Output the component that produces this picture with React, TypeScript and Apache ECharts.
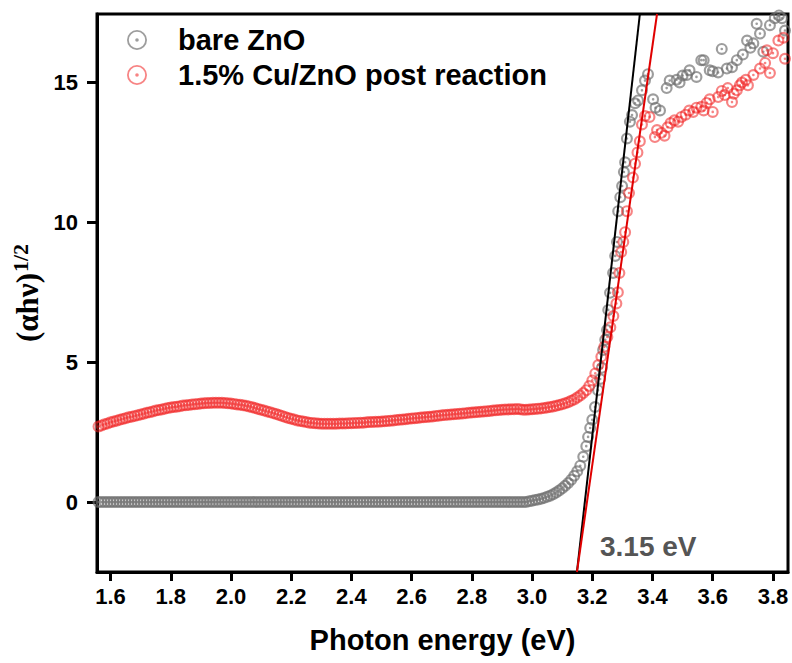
import React, { useEffect, useRef } from "react";
import * as echarts from "echarts";

// Photon energy grid (eV) of the smooth, densely sampled part of both spectra
const energyBase = [
  1.56, 1.57, 1.58, 1.59, 1.6, 1.61, 1.62, 1.63, 1.64, 1.65, 1.66, 1.67, 1.68, 1.69, 1.7, 1.71, 1.72, 1.73, 1.74, 1.75,
  1.76, 1.77, 1.78, 1.79, 1.8, 1.81, 1.82, 1.83, 1.84, 1.85, 1.86, 1.87, 1.88, 1.89, 1.9, 1.91, 1.92, 1.93, 1.94, 1.95,
  1.96, 1.97, 1.98, 1.99, 2.0, 2.01, 2.02, 2.03, 2.04, 2.05, 2.06, 2.07, 2.08, 2.09, 2.1, 2.11, 2.12, 2.13, 2.14, 2.15,
  2.16, 2.17, 2.18, 2.19, 2.2, 2.21, 2.22, 2.23, 2.24, 2.25, 2.26, 2.27, 2.28, 2.29, 2.3, 2.31, 2.32, 2.33, 2.34, 2.35,
  2.36, 2.37, 2.38, 2.39, 2.4, 2.41, 2.42, 2.43, 2.44, 2.45, 2.46, 2.47, 2.48, 2.49, 2.5, 2.51, 2.52, 2.53, 2.54, 2.55,
  2.56, 2.57, 2.58, 2.59, 2.6, 2.61, 2.62, 2.63, 2.64, 2.65, 2.66, 2.67, 2.68, 2.69, 2.7, 2.71, 2.72, 2.73, 2.74, 2.75,
  2.76, 2.77, 2.78, 2.79, 2.8, 2.81, 2.82, 2.83, 2.84, 2.85, 2.86, 2.87, 2.88, 2.89, 2.9, 2.91, 2.92, 2.93, 2.94, 2.95,
  2.96, 2.97, 2.98, 2.99, 3.0, 3.01, 3.02, 3.03, 3.04, 3.05, 3.06, 3.07, 3.08, 3.09, 3.1, 3.11, 3.12, 3.13, 3.14, 3.15,
  3.16,
];

// (αhν)^1/2 of bare ZnO on that grid
const bareBase = [
  0, 0, 0, 0, 0, 0, 0, 0, 0, 0, 0, 0, 0, 0, 0, 0, 0, 0, 0, 0,
  0, 0, 0, 0, 0, 0, 0, 0, 0, 0, 0, 0, 0, 0, 0, 0, 0, 0, 0, 0,
  0, 0, 0, 0, 0, 0, 0, 0, 0, 0, 0, 0, 0, 0, 0, 0, 0, 0, 0, 0,
  0, 0, 0, 0, 0, 0, 0, 0, 0, 0, 0, 0, 0, 0, 0, 0, 0, 0, 0, 0,
  0, 0, 0, 0, 0, 0, 0, 0, 0, 0, 0, 0, 0, 0, 0, 0, 0, 0, 0, 0,
  0, 0, 0, 0, 0, 0, 0, 0, 0, 0, 0, 0, 0, 0, 0, 0, 0, 0, 0, 0,
  0, 0, 0, 0, 0, 0, 0, 0, 0, 0, 0, 0, 0, 0, 0, 0, 0, 0, 0, 0,
  0, 0, 0, 0.03, 0.05, 0.07, 0.09, 0.12, 0.15, 0.19, 0.23, 0.28, 0.34, 0.41, 0.49, 0.58, 0.68, 0.8, 0.94, 1.1,
  1.3,
];

// (αhν)^1/2 of 1.5% Cu/ZnO post reaction on that grid
const cuBase = [
  2.7, 2.74, 2.78, 2.81, 2.85, 2.88, 2.91, 2.94, 2.97, 3.0, 3.03, 3.05, 3.08, 3.1, 3.13, 3.16, 3.19, 3.21, 3.24, 3.27,
  3.29, 3.31, 3.34, 3.36, 3.38, 3.4, 3.41, 3.43, 3.45, 3.46, 3.47, 3.49, 3.5, 3.51, 3.52, 3.53, 3.54, 3.54, 3.55, 3.55,
  3.55, 3.55, 3.54, 3.53, 3.52, 3.51, 3.49, 3.48, 3.46, 3.44, 3.42, 3.39, 3.36, 3.33, 3.3, 3.27, 3.24, 3.21, 3.18, 3.15,
  3.11, 3.08, 3.04, 3.01, 2.98, 2.95, 2.92, 2.9, 2.88, 2.86, 2.84, 2.83, 2.82, 2.81, 2.8, 2.8, 2.8, 2.8, 2.8, 2.8,
  2.81, 2.81, 2.81, 2.82, 2.82, 2.83, 2.83, 2.84, 2.84, 2.85, 2.86, 2.86, 2.87, 2.87, 2.88, 2.89, 2.9, 2.91, 2.92, 2.93,
  2.94, 2.95, 2.96, 2.98, 2.99, 3.0, 3.01, 3.02, 3.03, 3.04, 3.05, 3.06, 3.08, 3.09, 3.1, 3.11, 3.12, 3.13, 3.14, 3.15,
  3.16, 3.17, 3.18, 3.19, 3.2, 3.21, 3.22, 3.23, 3.24, 3.25, 3.26, 3.27, 3.28, 3.29, 3.3, 3.31, 3.31, 3.32, 3.32, 3.33,
  3.32, 3.3, 3.3, 3.31, 3.32, 3.33, 3.34, 3.35, 3.36, 3.38, 3.4, 3.42, 3.44, 3.47, 3.5, 3.53, 3.57, 3.62, 3.67, 3.74,
  3.81,
];

// Absorption edge and noisy high-energy region, [energy, value]
const bareEdge = [
  [3.17, 1.62], [3.18, 2.0], [3.186, 2.33], [3.193, 2.65], [3.2, 2.94], [3.209, 3.4], [3.219, 4.0], [3.226, 4.4],
  [3.232, 4.8], [3.236, 5.44], [3.243, 5.8], [3.249, 6.15], [3.253, 6.87], [3.259, 7.48], [3.269, 8.19], [3.276, 8.8],
  [3.282, 9.3], [3.286, 10.4], [3.293, 10.9], [3.299, 11.3], [3.305, 11.8], [3.309, 12.15], [3.315, 13.0], [3.325, 13.6],
  [3.332, 13.84], [3.342, 14.26], [3.352, 14.36], [3.365, 14.72], [3.375, 15.07], [3.385, 15.3], [3.402, 14.4], [3.41, 14.1],
  [3.425, 14.0], [3.447, 14.8], [3.457, 15.07], [3.48, 15.1], [3.49, 15.0], [3.5, 15.25], [3.514, 15.27], [3.523, 15.44],
  [3.546, 15.2], [3.562, 15.8], [3.57, 15.8], [3.59, 15.44], [3.6, 15.4], [3.618, 15.36], [3.63, 16.2], [3.647, 15.5],
  [3.664, 15.55], [3.68, 15.8], [3.7, 16.0], [3.714, 16.5], [3.725, 16.24], [3.735, 16.4], [3.746, 17.1], [3.757, 16.75],
  [3.768, 16.1], [3.79, 17.05], [3.806, 17.3], [3.82, 17.4], [3.83, 17.3], [3.84, 16.86],
];

const cuEdge = [
  [3.17, 3.9], [3.18, 4.0], [3.19, 4.15], [3.2, 4.35], [3.21, 4.6], [3.22, 4.9], [3.23, 5.2], [3.24, 5.55],
  [3.25, 5.9], [3.26, 6.25], [3.27, 6.65], [3.28, 7.1], [3.285, 7.5], [3.29, 8.19], [3.296, 8.94], [3.303, 9.3],
  [3.309, 9.65], [3.315, 10.4], [3.322, 11.05], [3.335, 11.6], [3.342, 12.1], [3.35, 12.5], [3.358, 12.9], [3.365, 13.5],
  [3.375, 13.8], [3.39, 13.77], [3.408, 13.05], [3.415, 13.3], [3.43, 13.2], [3.44, 13.1], [3.45, 13.4], [3.46, 13.55],
  [3.473, 13.65], [3.485, 13.6], [3.496, 13.77], [3.51, 13.85], [3.522, 14.0], [3.535, 13.95], [3.546, 14.1], [3.562, 14.13],
  [3.57, 14.0], [3.58, 14.27], [3.59, 14.4], [3.6, 13.95], [3.618, 14.48], [3.63, 14.7], [3.64, 14.55], [3.65, 14.8],
  [3.664, 14.3], [3.67, 14.6], [3.68, 14.72], [3.69, 14.9], [3.697, 15.0], [3.71, 15.1], [3.717, 14.9], [3.735, 15.27],
  [3.757, 15.5], [3.774, 15.7], [3.78, 16.15], [3.79, 15.34], [3.8, 16.05], [3.818, 16.5], [3.835, 16.6], [3.84, 15.85],
];

// Tauc-plot linear fits (end points inside the axis range)
const bareFit = [[3.149, -2.5], [3.358, 17.45]];
const cuFit = [[3.149, -2.5], [3.415, 17.45]];

const xTicks = [1.6, 1.8, 2.0, 2.2, 2.4, 2.6, 2.8, 3.0, 3.2, 3.4, 3.6, 3.8];
const yTicks = [0, 5, 10, 15];

const seriesNames = ["bare ZnO", "1.5% Cu/ZnO post reaction"];
const bandGapLabel = "3.15 eV";

// ring with a centre dot (nonzero winding: outer cw, hole ccw, dot cw)
const ringDot = (r: number, h: number, d: number) =>
  `path://M0,${-r}A${r},${r} 0 1,1 0,${r}A${r},${r} 0 1,1 0,${-r}Z` +
  `M0,${-h}A${h},${h} 0 1,0 0,${h}A${h},${h} 0 1,0 0,${-h}Z` +
  `M0,${-d}A${d},${d} 0 1,1 0,${d}A${d},${d} 0 1,1 0,${-d}Z`;

const markerSymbol = ringDot(10, 6.4, 2.2);
const legendSymbol = ringDot(10, 8.2, 1.8);

export default function App() {
  const ref = useRef<HTMLDivElement>(null);

  useEffect(() => {
    if (!ref.current) return;
    const chart = echarts.init(ref.current, null, { renderer: "svg" });

    const bareData = energyBase.map((e, i) => [e, bareBase[i]]).concat(bareEdge);
    const cuData = energyBase.map((e, i) => [e, cuBase[i]]).concat(cuEdge);

    const sans = "'Liberation Sans', Arial, sans-serif";
    const serif = "'Liberation Serif', 'Times New Roman', serif";

    chart.setOption({
      animation: false,
      backgroundColor: "#ffffff",
      textStyle: { fontFamily: sans },
      grid: {
        left: 97,
        right: 4,
        top: 14,
        bottom: 91,
        show: true,
        borderColor: "#000",
        borderWidth: 3,
        containLabel: false,
      },
      legend: {
        orient: "vertical",
        left: 122,
        top: 20,
        itemWidth: 72,
        itemHeight: 20,
        itemGap: 5,
        symbolKeepAspect: true,
        data: [
          { name: seriesNames[0], icon: legendSymbol },
          { name: seriesNames[1], icon: legendSymbol },
        ],
        textStyle: {
          fontFamily: sans,
          fontWeight: "bold",
          fontSize: 29,
          lineHeight: 30,
          color: "#000",
        },
      },
      xAxis: {
        type: "value",
        min: 1.555,
        max: 3.85,
        name: "Photon energy (eV)",
        nameLocation: "middle",
        nameGap: 53,
        nameTextStyle: { fontFamily: sans, fontWeight: "bold", fontSize: 29, color: "#000" },
        axisLine: { show: true, onZero: false, lineStyle: { color: "#000", width: 3 } },
        axisTick: {
          show: true,
          inside: false,
          length: 9,
          customValues: xTicks,
          lineStyle: { color: "#000", width: 3 },
        },
        axisLabel: {
          customValues: xTicks,
          margin: 13,
          fontFamily: sans,
          fontWeight: "bold",
          fontSize: 22,
          color: "#000",
          formatter: (v: number) => v.toFixed(1),
        },
        splitLine: { show: false },
      },
      yAxis: {
        type: "value",
        min: -2.5,
        max: 17.45,
        name: "{a|(αhν)}{b|1/2}",
        nameLocation: "middle",
        nameRotate: 90,
        nameGap: 50,
        nameTextStyle: {
          fontFamily: serif,
          fontWeight: "bold",
          fontSize: 31,
          color: "#000",
          rich: {
            a: { fontFamily: serif, fontWeight: "bold", fontSize: 31, color: "#000", verticalAlign: "bottom", lineHeight: 36 },
            b: {
              fontFamily: serif,
              fontWeight: "bold",
              fontSize: 22,
              color: "#000",
              verticalAlign: "bottom",
              lineHeight: 36,
              padding: [0, 0, 11, 1],
            },
          },
        },
        axisLine: { show: true, onZero: false, lineStyle: { color: "#000", width: 3 } },
        axisTick: {
          show: true,
          inside: false,
          length: 10,
          customValues: yTicks,
          lineStyle: { color: "#000", width: 3 },
        },
        axisLabel: {
          customValues: yTicks,
          margin: 19,
          fontFamily: sans,
          fontWeight: "bold",
          fontSize: 22,
          color: "#000",
        },
        splitLine: { show: false },
      },
      series: [
        {
          name: seriesNames[0],
          type: "scatter",
          data: bareData,
          symbol: markerSymbol,
          symbolSize: 12,
          itemStyle: { color: "rgba(110,110,110,0.85)" },
          z: 2,
        },
        {
          name: seriesNames[1],
          type: "scatter",
          data: cuData,
          symbol: markerSymbol,
          symbolSize: 12,
          itemStyle: { color: "rgba(240,30,30,0.68)" },
          z: 3,
        },
        {
          name: "fit bare",
          type: "line",
          data: bareFit,
          showSymbol: false,
          symbol: "none",
          lineStyle: { color: "#000", width: 2 },
          z: 4,
          silent: true,
        },
        {
          name: "fit Cu",
          type: "line",
          data: cuFit,
          showSymbol: false,
          symbol: "none",
          lineStyle: { color: "#e00000", width: 2 },
          z: 5,
          silent: true,
        },
      ],
      graphic: [
        {
          type: "text",
          left: 600,
          top: 532,
          z: 10,
          style: {
            text: bandGapLabel,
            fill: "#555555",
            font: `bold 28px ${sans}`,
          },
        },
      ],
    });

    return () => chart.dispose();
  }, []);

  return (
    <div
      ref={ref}
      style={{ position: "fixed", left: 0, top: 0, width: 792, height: 663, background: "#fff" }}
    />
  );
}
